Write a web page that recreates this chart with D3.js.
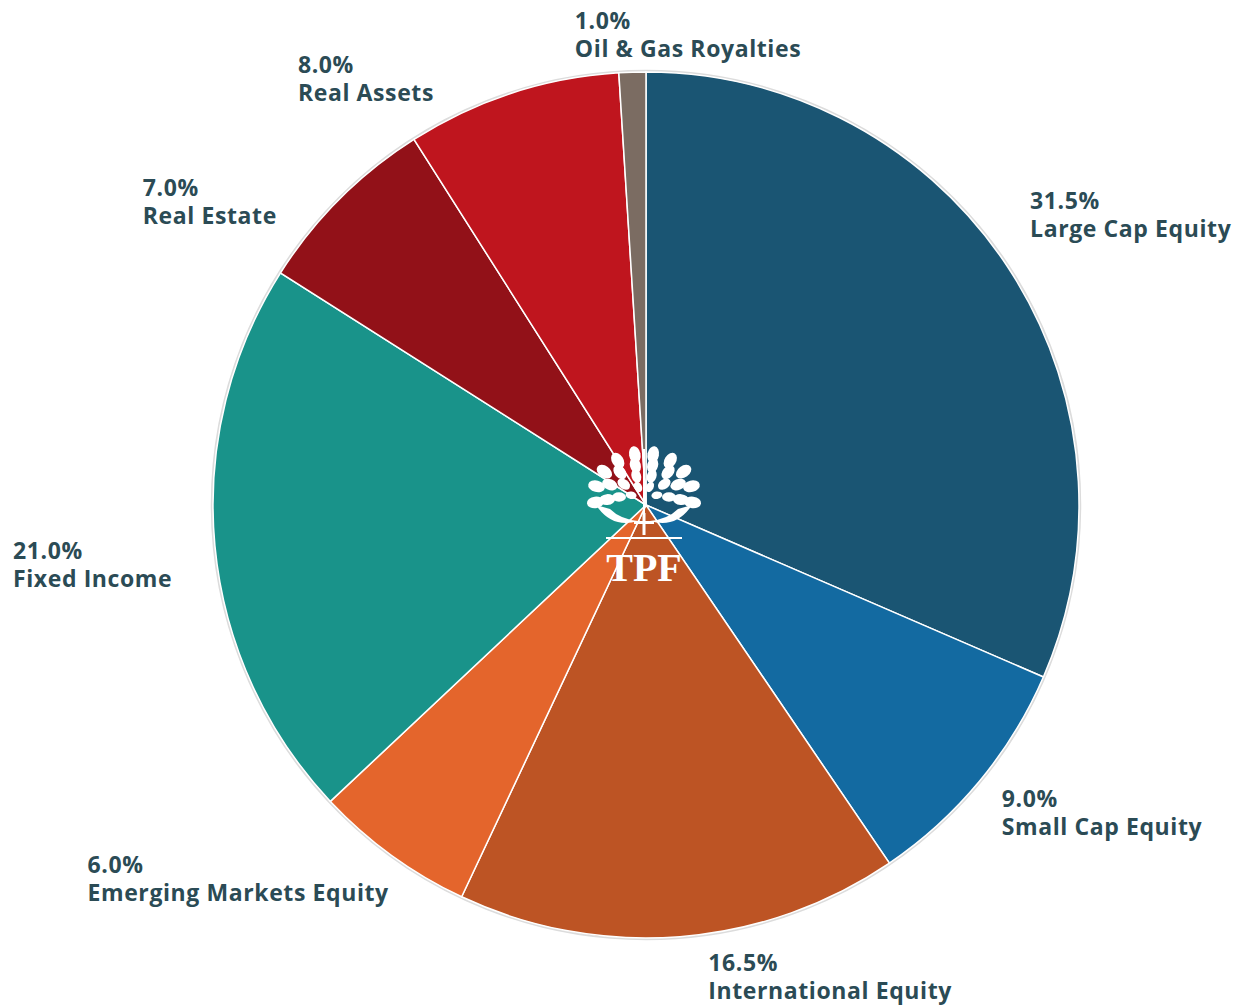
<!DOCTYPE html>
<html>
<head>
<meta charset="utf-8">
<script src="https://cdn.jsdelivr.net/npm/d3@7"></script>
<style>
  body { margin: 0; background: #ffffff; }
  svg text { font-family: "Open Sans", "DejaVu Sans", sans-serif; }
</style>
</head>
<body>
<div id="container"></div>
<script>
let w = 1243;
let h = 1007;

// DATA
let categories = ["Large Cap Equity", "Small Cap Equity", "International Equity", "Emerging Markets Equity",
                  "Fixed Income", "Real Estate", "Real Assets", "Oil & Gas Royalties"];
let shares = [31.5, 9.0, 16.5, 6.0, 21.0, 7.0, 8.0, 1.0];
let sliceColors = ["#1a5573", "#136aa1", "#bd5424", "#e4652c", "#19938a", "#921118", "#bf151e", "#7b6c62"];

// label nudges from the anchor point outside each slice (layout only)
let labelNudge = [[8, -49], [9, 15], [27, 17], [-294, 4], [-185, 12], [-185, 9], [-209, -4], [-57, -26]];

let cx = 646, cy = 505, radius = 433, labelRadius = 450;

let viz = d3.select("#container").append("svg")
    .attr("width", w)
    .attr("height", h);

let pieData = categories.map(function(c, i){
  return {name: c, value: shares[i], color: sliceColors[i], nudge: labelNudge[i]};
});

let pie = d3.pie().sort(null).value(function(d){ return d.value; });
let arc = d3.arc().innerRadius(0).outerRadius(radius);

let g = viz.append("g").attr("transform", "translate(" + cx + "," + cy + ")");

// faint shadow rim
g.append("circle")
  .attr("r", radius + 1)
  .attr("fill", "none")
  .attr("stroke", "#dcdcdc")
  .attr("stroke-width", 2.5);

g.selectAll(".slice").data(pie(pieData)).enter()
  .append("path")
    .attr("class", "slice")
    .attr("d", arc)
    .attr("fill", function(d){ return d.data.color; })
    .attr("stroke", "white")
    .attr("stroke-width", 1.5);

// LABELS
let labels = g.selectAll(".lbl").data(pie(pieData)).enter()
  .append("text")
    .attr("class", "lbl")
    .attr("fill", "#2b4b55")
    .attr("font-size", 23)
    .attr("font-weight", 700)
    .attr("letter-spacing", 0.6)
    .attr("transform", function(d){
      let a = (d.startAngle + d.endAngle) / 2;
      let x = labelRadius * Math.sin(a) + d.data.nudge[0];
      let y = -labelRadius * Math.cos(a) + d.data.nudge[1];
      return "translate(" + x + "," + y + ")";
    });

labels.append("tspan")
  .attr("x", 0).attr("y", 0)
  .text(function(d){ return d.data.value.toFixed(1) + "%"; });
labels.append("tspan")
  .attr("x", 0).attr("y", 28)
  .text(function(d){ return d.data.name; });

// LOGO in the middle (tree + TPF)
let logo = viz.append("g").attr("transform", "translate(" + (cx - 2) + "," + (cy - 8) + ")");
let rings = [
  {r: 13, n: 4, size: 5.5},
  {r: 25, n: 6, size: 7},
  {r: 37, n: 8, size: 8},
  {r: 49, n: 10, size: 8.5}
];
rings.forEach(function(ring){
  for (let k = 0; k < ring.n; k++) {
    let t = -108 + 216 * (k + 0.5) / ring.n;
    let rad = t * Math.PI / 180;
    let lx = ring.r * Math.sin(rad);
    let ly = -ring.r * Math.cos(rad) * 0.88;
    logo.append("ellipse")
      .attr("cx", lx).attr("cy", ly)
      .attr("rx", ring.size * 0.68).attr("ry", ring.size)
      .attr("transform", "rotate(" + t + "," + lx + "," + ly + ")")
      .attr("fill", "white");
  }
});
// trunk
logo.append("line")
  .attr("x1", 0).attr("y1", -48).attr("x2", 0).attr("y2", 20)
  .attr("stroke", "white").attr("stroke-width", 2);
// cupped hands under the crown
logo.append("path")
  .attr("d", "M-48,8 Q-32,32 -6,24 Q-24,22 -34,12 Z M48,8 Q32,32 6,24 Q24,22 34,12 Z")
  .attr("fill", "white");
// cross
logo.append("rect").attr("x", -1.5).attr("y", 16).attr("width", 3).attr("height", 22).attr("fill", "white");
logo.append("rect").attr("x", -10).attr("y", 24).attr("width", 20).attr("height", 3).attr("fill", "white");
// rule
logo.append("rect").attr("x", -38).attr("y", 40).attr("width", 76).attr("height", 2).attr("fill", "white");
logo.append("text")
  .attr("x", 0).attr("y", 84)
  .attr("text-anchor", "middle")
  .attr("fill", "white")
  .attr("font-size", 40)
  .attr("font-weight", 700)
  .style("font-family", "'Liberation Serif', 'DejaVu Serif', serif")
  .text("TPF");
</script>
</body>
</html>
